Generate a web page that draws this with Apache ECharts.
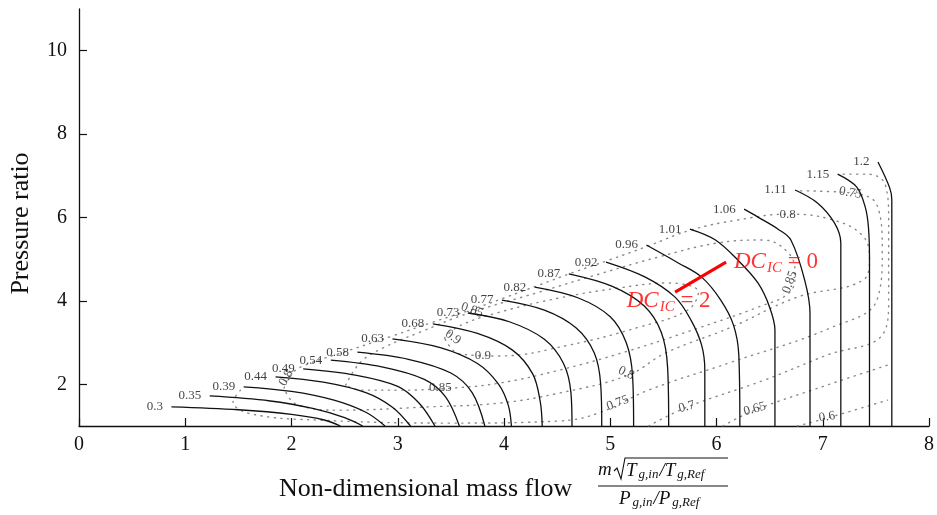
<!DOCTYPE html>
<html><head><meta charset="utf-8">
<script src="https://cdn.jsdelivr.net/npm/echarts@6/dist/echarts.min.js"></script>
<style>html,body{margin:0;padding:0;background:#fff}#c{width:937px;height:515px}</style>
</head><body><div id="c"></div>
<script>
// ---- speed lines (corrected speed), points [mass flow, pressure ratio]
const speedNames = ['0.3','0.35','0.39','0.44','0.49','0.54','0.58','0.63','0.68','0.73','0.77','0.82','0.87','0.92','0.96','1.01','1.06','1.11','1.15','1.2'];
const n030 = [[0.87,1.46],[1.5,1.39],[2.0,1.28],[2.3,1.15],[2.46,1.0]];
const n035 = [[1.23,1.72],[1.8,1.6],[2.2,1.42],[2.5,1.2],[2.67,1.0]];
const n039 = [[1.55,1.94],[2.0,1.83],[2.4,1.62],[2.7,1.33],[2.88,1.0]];
const n044 = [[1.85,2.18],[2.3,2.05],[2.7,1.8],[2.95,1.45],[3.12,1.0]];
const n049 = [[2.11,2.37],[2.6,2.22],[3.0,1.95],[3.2,1.55],[3.35,1.0]];
const n054 = [[2.37,2.58],[2.85,2.42],[3.25,2.12],[3.45,1.7],[3.58,1.0]];
const n058 = [[2.62,2.77],[3.1,2.6],[3.5,2.27],[3.7,1.8],[3.82,1.0]];
const n063 = [[2.95,3.09],[3.4,2.88],[3.75,2.5],[3.95,2.0],[4.04,1.5],[4.07,1.0]];
const n068 = [[3.33,3.45],[3.75,3.22],[4.08,2.82],[4.27,2.25],[4.34,1.6],[4.36,1.0]];
const n073 = [[3.66,3.71],[4.05,3.5],[4.38,3.08],[4.56,2.5],[4.63,1.8],[4.64,1.0]];
const n077 = [[3.98,4.02],[4.38,3.78],[4.68,3.35],[4.85,2.75],[4.91,2.0],[4.92,1.0]];
const n082 = [[4.29,4.33],[4.7,4.07],[5.0,3.62],[5.15,3.0],[5.21,2.2],[5.22,1.0]];
const n087 = [[4.61,4.65],[5.02,4.35],[5.32,3.88],[5.48,3.25],[5.54,2.4],[5.55,1.0]];
const n092 = [[4.96,4.93],[5.33,4.57],[5.61,4.09],[5.76,3.54],[5.86,2.94],[5.89,2.34],[5.89,1.0]];
const n096 = [[5.34,5.34],[5.64,4.91],[5.86,4.57],[6.04,4.02],[6.16,3.42],[6.21,2.7],[6.22,1.0]];
const n101 = [[5.75,5.72],[5.99,5.46],[6.2,4.98],[6.39,4.43],[6.5,3.85],[6.55,3.3],[6.55,1.0]];
const n106 = [[6.26,6.2],[6.39,6.01],[6.58,5.72],[6.7,5.46],[6.83,4.5],[6.88,3.7],[6.88,1.0]];
const n111 = [[6.74,6.66],[6.95,6.35],[7.11,5.87],[7.17,5.39],[7.17,4.67],[7.17,1.0]];
const n115 = [[7.14,7.04],[7.32,6.73],[7.4,6.25],[7.43,5.77],[7.44,5.0],[7.44,1.0]];
const n120 = [[7.52,7.33],[7.63,6.71],[7.65,6.42],[7.65,5.0],[7.65,1.0]];
const speedLines = [n030,n035,n039,n044,n049,n054,n058,n063,n068,n073,n077,n082,n087,n092,n096,n101,n106,n111,n115,n120];

// ---- efficiency contours (dotted)
const eff90 = [[3.44,3.11],[3.58,3.40],[3.96,3.73],[4.52,4.07],[5.08,4.31],[5.55,4.43],[5.83,4.21],[5.73,3.78],[5.27,3.37],[4.61,2.94],[3.96,2.68],[3.58,2.73],[3.44,3.11]];
const eff85 = [[2.51,1.98],[2.65,2.53],[2.86,2.87],[3.21,3.25],[3.65,3.69],[4.33,4.21],[4.89,4.64],[5.45,5.05],[6.01,5.39],[6.44,5.46],[6.67,5.17],[6.74,4.69],[6.69,4.21],[6.39,3.85],[5.83,3.35],[5.17,2.80],[4.52,2.34],[3.96,2.03],[3.52,1.91],[3.02,1.86],[2.65,1.86],[2.51,1.98]];
const eff80 = [[1.93,1.91],[1.99,2.22],[2.11,2.44],[2.55,2.82],[2.95,3.16],[3.33,3.49],[3.68,3.78],[4.0,4.07],[4.33,4.38],[4.66,4.69],[4.99,4.98],[5.36,5.32],[5.76,5.70],[6.2,5.94],[6.67,6.08],[7.07,5.96],[7.37,5.58],[7.44,5.03],[7.38,4.5],[6.76,4.09],[6.14,3.37],[5.52,2.75],[5.17,2.22],[4.52,1.79],[3.96,1.55],[3.3,1.46],[2.46,1.38],[2.04,1.53],[1.93,1.91]];
const eff75 = [[1.52,1.86],[1.45,1.58],[1.62,1.29],[2.27,1.14],[3.49,1.07],[4.52,1.12],[4.89,1.31],[5.36,1.86],[6.14,2.53],[7.07,3.35],[7.51,4.02],[7.56,5.22],[7.51,6.3],[7.26,6.59],[6.76,6.64]];
const eff70 = [[5.36,1.0],[5.73,1.46],[6.45,2.1],[7.04,2.7],[7.56,3.18],[7.62,4.02],[7.62,5.94],[7.59,6.78],[7.42,7.04],[7.16,7.04]];
const eff65 = [[6.06,1.0],[6.36,1.38],[7.04,1.98],[7.61,2.46]];
const eff60 = [[6.76,1.0],[7.04,1.19],[7.61,1.62]];
const effLabels = [
  {v:[3.52,3.13], t:'0.9', r:-35},
  {v:[3.7,3.78], t:'0.85', r:-20},
  {v:[3.8,2.7], t:'0.9', r:0},
  {v:[3.4,1.91], t:'0.85', r:0},
  {v:[1.95,2.15], t:'0.8', r:60},
  {v:[5.15,2.27], t:'0.8', r:-25},
  {v:[5.07,1.55], t:'0.75', r:20},
  {v:[5.72,1.46], t:'0.7', r:15},
  {v:[6.36,1.41], t:'0.65', r:15},
  {v:[7.04,1.22], t:'0.6', r:10},
  {v:[6.67,6.08], t:'0.8', r:0},
  {v:[7.26,6.59], t:'0.75', r:-10},
  {v:[6.69,4.45], t:'0.85', r:70}
];
// ---- DC_IC annotation
const dcLine = [[5.61,4.21],[6.09,4.93]];
const dcLabels = [{v:[6.16,4.93], t:'0'},{v:[5.15,4.0], t:'2'}];

const xTicks = [0,1,2,3,4,5,6,7,8];
const yTicks = [2,4,6,8,10];

const chart = echarts.init(document.getElementById('c'), null, {renderer:'canvas'});
const serif = '"Liberation Serif","DejaVu Serif",serif';
const series = [];
[eff90,eff85,eff80,eff75,eff70,eff65,eff60].forEach(d=>{
  series.push({type:'line', data:d, smooth:0.4, showSymbol:false, silent:true, z:1,
    lineStyle:{color:'#8a8a8a', width:1.4, type:[1.2,5.5], cap:'round'}});
});
speedLines.forEach(d=>{
  series.push({type:'line', data:d, smooth:0.35, showSymbol:false, silent:true, z:3,
    lineStyle:{color:'#111', width:1.3}});
});
series.push({type:'scatter', symbolSize:1, itemStyle:{color:'rgba(0,0,0,0)'}, z:4,
  data: speedLines.map((d,i)=>({value:d[0], name:speedNames[i]})),
  label:{show:true, position:'left', distance:8, formatter:p=>p.name, color:'#111', fontFamily:serif, fontSize:13}});
series.push({type:'scatter', symbolSize:1, itemStyle:{color:'rgba(0,0,0,0)'}, z:4,
  data: effLabels.map(o=>({value:o.v, name:o.t, label:{rotate:o.r}})),
  label:{show:true, position:'inside', formatter:p=>p.name, color:'#222', fontFamily:serif, fontSize:13}});
series.push({type:'line', data:dcLine, showSymbol:false, silent:true, z:5, lineStyle:{color:'#ff0000', width:3}});
series.push({type:'scatter', symbolSize:1, itemStyle:{color:'rgba(0,0,0,0)'}, z:6,
  data: dcLabels.map(o=>({value:o.v, name:o.t})),
  label:{show:true, position:'right', distance:0, formatter:p=>'{a|DC}{b|IC}{c| = '+p.name+'}',
    rich:{a:{fontFamily:serif, fontStyle:'italic', fontSize:23, color:'#ff0000', verticalAlign:'middle', lineHeight:28},
          b:{fontFamily:serif, fontStyle:'italic', fontSize:15, color:'#ff0000', padding:[12,0,0,1], lineHeight:28},
          c:{fontFamily:serif, fontSize:23, color:'#ff0000', verticalAlign:'middle', lineHeight:28}}}});

const tRich = {t:{font:'italic 19px '+serif, fill:'#111', padding:[0,1,0,0]}, s:{font:'italic 13px '+serif, fill:'#111', padding:[8,1,0,1]}};
chart.setOption({
  animation:false,
  grid:{left:77, right:5, top:9, bottom:89},
  xAxis:{type:'value', min:0, max:8, interval:1,
    axisLine:{lineStyle:{color:'#111', width:1.3}}, axisTick:{inside:true, length:8, lineStyle:{color:'#111', width:1.2}},
    axisLabel:{customValues:xTicks, color:'#111', fontFamily:serif, fontSize:20, margin:9}, splitLine:{show:false}},
  yAxis:{type:'value', min:1, max:11,
    axisLine:{show:true, lineStyle:{color:'#111', width:1.3}}, axisTick:{inside:true, length:8, customValues:yTicks, lineStyle:{color:'#111', width:1.2}},
    axisLabel:{customValues:yTicks, color:'#111', fontFamily:serif, fontSize:20, margin:12}, splitLine:{show:false},
    name:'Pressure ratio', nameLocation:'middle', nameGap:45, nameTextStyle:{fontFamily:serif, fontSize:26, color:'#111', padding:[0,0,0,-12]}},
  series:series,
  graphic:[
    {type:'text', left:279, top:476, style:{text:'Non-dimensional mass flow', font:'26px '+serif, fill:'#111'}},
    {type:'text', left:598, top:460, style:{text:'m', font:'italic 19px '+serif, fill:'#111'}},
    {type:'polyline', shape:{points:[[614,471],[617,468],[621,479],[625,458],[728,458]]}, style:{stroke:'#111', lineWidth:1.1, fill:null}},
    {type:'text', left:626, top:461, style:{text:'{t|T}{s|g,in}{t|/T}{s|g,Ref}', rich:tRich}},
    {type:'line', shape:{x1:598, y1:486, x2:728, y2:486}, style:{stroke:'#111', lineWidth:1}},
    {type:'text', left:619, top:489, style:{text:'{t|P}{s|g,in}{t|/P}{s|g,Ref}', rich:tRich}}
  ]
});
</script></body></html>
